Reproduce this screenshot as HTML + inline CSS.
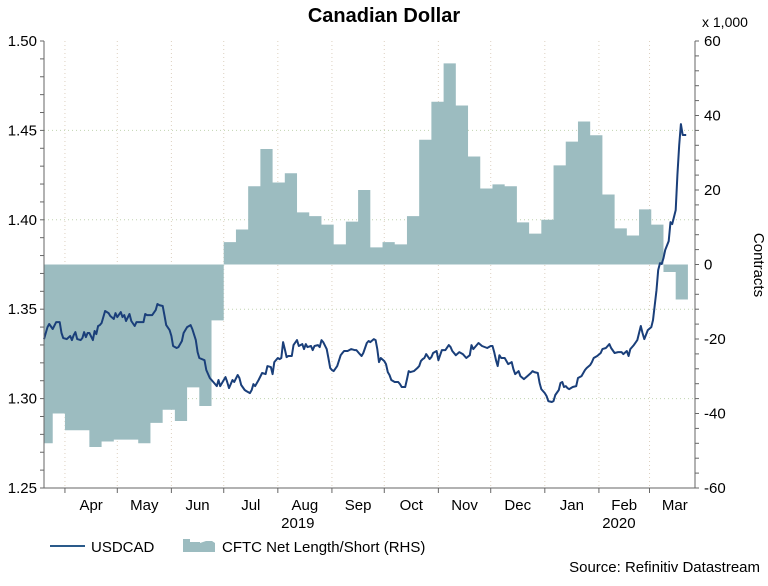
<!DOCTYPE html>
<html><head><meta charset="utf-8"><style>
body{margin:0;background:#fff;font-family:"Liberation Sans",sans-serif;}
svg text{font-family:"Liberation Sans",sans-serif;}
</style></head><body>
<svg id="chart" width="768" height="581" viewBox="0 0 768 581" xmlns="http://www.w3.org/2000/svg">
<text x="384" y="22" text-anchor="middle" font-size="20" font-weight="bold">Canadian Dollar</text>
<text x="702" y="27" font-size="14">x 1,000</text>
<text transform="translate(754,265) rotate(90)" text-anchor="middle" font-size="15">Contracts</text>
<g id="grid"></g>
<g id="cftc"></g>
<g id="line"></g>
<g id="axes"></g>
<g>
<line x1="50" y1="546" x2="85" y2="546" stroke="#2a5a8a" stroke-width="2"/>
<text x="91" y="552" font-size="15">USDCAD</text>
<path d="M183 552 L183 539 L190 539 L190 542 L200 542 L200 543 L206 541 L212 541 L215 543 L215 552 Z" fill="#9cbcc0"/>
<text x="222" y="552" font-size="15">CFTC Net Length/Short (RHS)</text>
</g>
<text x="760" y="572" text-anchor="end" font-size="15">Source: Refinitiv Datastream</text>
</svg>
<script>
// USDCAD: [day offset from 2019-03-20, value]
const usdDays=[0,2,3,5,7,9,10,11,13,15,16,17,18,19,21,22,23,24,25,26,28,29,30,31,32,33,35,37,38,40,41,42,44,45,46,47,49,50,52,53,55,57,58,59,61,62,64,65,66,68,69,70,72,73,74,76,77,79,80,82,84,85,87,88,89,92,93,95,97,99,100,101,104,105,106,108,109,111,112,113,115,116,118,119,120,121,123,125,127,128,130,131,132,134,135,136,137,138,139,140,142,143,145,146,148,149,150,151,153,154,155,157,158,159,160,162,163,164,165,166,168,170,171,172,174,176,178,179,181,182,183,185,186,187,189,190,191,192,193,195,196,197,198,199,201,203,204,205,207,208,209,210,212,214,215,216,217,218,219,221,222,223,225,226,227,228,230,232,233,234,236,238,240,242,244,245,246,249,251,254,256,257,258,259,260,261,262,264,266,268,269,270,272,273,275,277,279,280,281,283,284,285,287,288,289,291,292,293,295,296,297,298,299,300,301,303,305,306,308,310,311,313,314,315,317,319,320,322,324,325,327,329,331,332,334,335,336,338,340,342,343,344,346,348,349,351,352,353,354,355,356,358,359,360,362,363,364,365,366,367,368];
const usdValues=[1.3333,1.3400,1.3417,1.3389,1.3428,1.3428,1.3367,1.3339,1.3333,1.3350,1.3327,1.3355,1.3372,1.3333,1.3327,1.3339,1.3372,1.3344,1.3367,1.3367,1.3327,1.3378,1.3361,1.3406,1.3411,1.3423,1.3490,1.3478,1.3462,1.3445,1.3478,1.3456,1.3484,1.3456,1.3467,1.3434,1.3473,1.3434,1.3406,1.3428,1.3428,1.3428,1.3473,1.3467,1.3467,1.3467,1.3495,1.3529,1.3523,1.3518,1.3467,1.3411,1.3383,1.3350,1.3294,1.3283,1.3288,1.3322,1.3367,1.3400,1.3411,1.3389,1.3327,1.3260,1.3227,1.3215,1.3160,1.3115,1.3093,1.3070,1.3104,1.3070,1.3120,1.3093,1.3059,1.3104,1.3093,1.3132,1.3115,1.3076,1.3048,1.3042,1.3031,1.3048,1.3081,1.3070,1.3104,1.3143,1.3137,1.3182,1.3176,1.3137,1.3204,1.3227,1.3221,1.3227,1.3316,1.3277,1.3232,1.3238,1.3238,1.3299,1.3327,1.3294,1.3305,1.3277,1.3305,1.3288,1.3294,1.3271,1.3294,1.3299,1.3288,1.3327,1.3316,1.3277,1.3227,1.3171,1.3160,1.3154,1.3182,1.3243,1.3255,1.3266,1.3266,1.3277,1.3271,1.3271,1.3249,1.3238,1.3255,1.3311,1.3322,1.3316,1.3333,1.3327,1.3277,1.3204,1.3227,1.3210,1.3193,1.3148,1.3132,1.3104,1.3093,1.3093,1.3081,1.3065,1.3065,1.3109,1.3154,1.3148,1.3154,1.3171,1.3182,1.3210,1.3221,1.3227,1.3249,1.3221,1.3232,1.3255,1.3266,1.3215,1.3243,1.3271,1.3271,1.3299,1.3288,1.3266,1.3243,1.3260,1.3249,1.3227,1.3243,1.3299,1.3277,1.3311,1.3294,1.3283,1.3294,1.3294,1.3260,1.3215,1.3182,1.3243,1.3227,1.3227,1.3193,1.3204,1.3165,1.3137,1.3154,1.3126,1.3109,1.3126,1.3143,1.3154,1.3148,1.3143,1.3087,1.3053,1.3031,1.3014,1.2986,1.2981,1.2986,1.3020,1.3048,1.3087,1.3093,1.3065,1.3070,1.3059,1.3053,1.3065,1.3070,1.3115,1.3126,1.3160,1.3171,1.3188,1.3204,1.3227,1.3238,1.3255,1.3277,1.3283,1.3305,1.3283,1.3255,1.3260,1.3260,1.3249,1.3266,1.3238,1.3277,1.3299,1.3327,1.3406,1.3367,1.3333,1.3383,1.3400,1.3439,1.3607,1.3719,1.3758,1.3753,1.3786,1.3831,1.3881,1.3987,1.3976,1.4054,1.4250,1.4418,1.4535,1.4474,1.4474,1.4474];
// CFTC weekly net position (thousands of contracts)
const cftcValues=[-48,-40,-44.5,-44.5,-49,-47.5,-47,-47,-48,-42.5,-39,-42,-33,-38,-15,6,9.4,21,31,22,24.5,14,13,10.7,5.4,11.5,20,4.6,6,5.4,13,33.5,43.7,54,42.7,29,20.4,21.5,21,11.3,8.3,12,26.6,33,38.4,34.7,18.8,9.7,7.8,14.8,10.7,-2,-9.4];
const leftTicks=["1.25","1.30","1.35","1.40","1.45","1.50"];
const rightTicks=["-60","-40","-20","0","20","40","60"];
const monthLabels=["Apr","May","Jun","Jul","Aug","Sep","Oct","Nov","Dec","Jan","Feb","Mar"];
const monthStartDays=[12,42,73,103,134,165,195,226,256,287,318,347];
const yearLabels=["2019","2020"];

const NS="http://www.w3.org/2000/svg";
const L=44,R=695,T=41,B=488;
const xS=d=>L+d*1.745;
const yL=v=>T+(1.5-v)*(B-T)/0.25;
const yR=v=>T+(60-v)*(B-T)/120;
function mk(tag,attrs,parent){const e=document.createElementNS(NS,tag);for(const k in attrs)e.setAttribute(k,attrs[k]);parent.appendChild(e);return e;}
const grid=document.getElementById('grid'),axes=document.getElementById('axes');
leftTicks.forEach(t=>{const y=yL(+t);if(y>T+1&&y<B-1){const g=mk('line',{x1:L,x2:R,y1:y,y2:y,stroke:'#c0d4b0','stroke-width':1,'stroke-dasharray':'1 3'},grid);

}});
monthStartDays.forEach(d=>{const x=xS(d);const g=mk('line',{x1:x,x2:x,y1:T,y2:B,stroke:'#dcd0c0','stroke-width':1,'stroke-dasharray':'1 3'},grid);

});
const cg=document.getElementById('cftc');
const cp=mk('clipPath',{id:'pc'},cg);
mk('rect',{x:L,y:T,width:R-L,height:B-T},cp);
let d='M'+xS(-2)+' '+yR(0);
cftcValues.forEach((v,k)=>{const x0=xS(-2+7*k),x1=xS(-2+7*(k+1));d+=' L'+x0+' '+yR(v)+' L'+x1+' '+yR(v);});
d+=' L'+xS(-2+7*cftcValues.length)+' '+yR(0)+' Z';
const area=mk('path',{d:d,fill:'#9cbcc0','clip-path':'url(#pc)'},cg);


const lg=document.getElementById('line');
const pts=usdDays.map((dd,i)=>xS(dd).toFixed(1)+','+yL(usdValues[i]).toFixed(1)).join(' ');
const pl=mk('polyline',{points:pts,fill:'none',stroke:'#1a3f7a','stroke-width':2,'stroke-linejoin':'round'},lg);


mk('line',{x1:L,x2:L,y1:T,y2:B,stroke:'#666'},axes);
mk('line',{x1:R,x2:R,y1:T,y2:B,stroke:'#666'},axes);
mk('line',{x1:L-4,x2:R,y1:B,y2:B,stroke:'#666'},axes);
for(let v=1.25;v<=1.5001;v+=0.01){mk('line',{x1:L-4,x2:L,y1:yL(v),y2:yL(v),stroke:'#666'},axes);}
for(let v=-60;v<=60;v+=4){mk('line',{x1:R,x2:R+4,y1:yR(v),y2:yR(v),stroke:'#666'},axes);}
leftTicks.forEach(t=>{const e=mk('text',{x:L-7,y:yL(+t)+5,'text-anchor':'end','font-size':15},axes);e.textContent=t;

});
rightTicks.forEach(t=>{const e=mk('text',{x:R+9,y:yR(+t)+5,'font-size':15},axes);e.textContent=t;

});
monthStartDays.forEach((dd,i)=>{mk('line',{x1:xS(dd),x2:xS(dd),y1:B,y2:B+5,stroke:'#666'},axes);
const next=i+1<monthStartDays.length?monthStartDays[i+1]:376;
const e=mk('text',{x:xS((dd+next)/2),y:510,'text-anchor':'middle','font-size':15},axes);e.textContent=monthLabels[i];

});
[[yearLabels[0],xS(134)],[yearLabels[1],xS(318)]].forEach(([t,x])=>{const e=mk('text',{x:x+20,y:528,'text-anchor':'middle','font-size':15},axes);e.textContent=t;

});
</script>
</body></html>
